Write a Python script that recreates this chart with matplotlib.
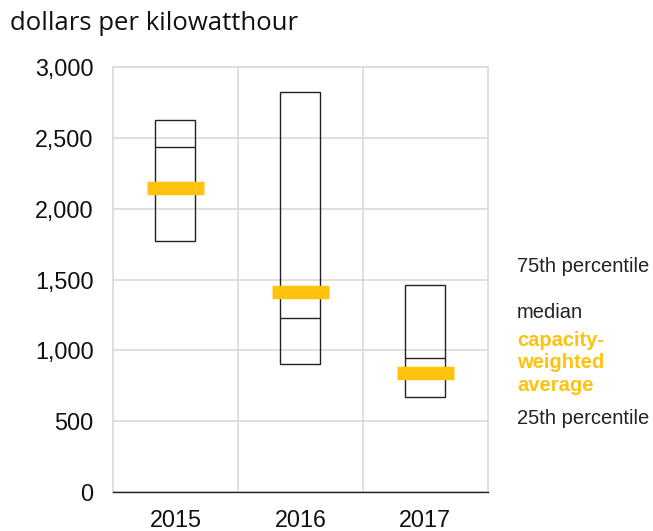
import matplotlib.pyplot as plt

# data
years = ["2015", "2016", "2017"]
p25 = [1772, 903, 670]
median = [2437, 1226, 946]
p75 = [2624, 2823, 1461]
weighted_avg = [2148, 1413, 840]

yellow = "#FFC20E"
grid_col = "#D9D9D9"

fig = plt.figure(figsize=(6.53, 5.31), dpi=100)
ax = fig.add_axes([0.173, 0.0734, 0.574, 0.8004])

x = list(range(len(years)))
box_w = 0.32
avg_w = 0.456

ax.bar(x, [a - b for a, b in zip(p75, p25)], bottom=p25, width=box_w,
       facecolor="none", edgecolor="#222222", linewidth=1.0, zorder=3)
for i in x:
    ax.hlines(median[i], i - box_w / 2, i + box_w / 2, color="#222222",
              linewidth=1.0, zorder=3)
    ax.hlines(weighted_avg[i], i - avg_w / 2, i + avg_w / 2, color=yellow,
              linewidth=9.7, zorder=4)

ax.set_xlim(-0.5, 2.5)
ax.set_ylim(0, 3000)
ax.set_yticks(range(0, 3001, 500))
ax.set_yticklabels([f"{v:,}" for v in range(0, 3001, 500)])
ax.set_xticks(x)
ax.set_xticklabels(years)

# gridlines: horizontal at ticks, vertical between categories
ax.yaxis.grid(True, color=grid_col, linewidth=1.2, zorder=0)
for xb in [0.5, 1.5]:
    ax.axvline(xb, color=grid_col, linewidth=1.2, zorder=0)
for side in ["left", "right", "top"]:
    ax.spines[side].set_color(grid_col)
    ax.spines[side].set_linewidth(1.2)
ax.spines["bottom"].set_color("#222222")
ax.spines["bottom"].set_linewidth(1.0)
ax.tick_params(length=0, labelsize=16.8, labelcolor="#111111")
ax.tick_params(axis="y", pad=14)
ax.tick_params(axis="x", pad=12)
for lab in ax.get_xticklabels() + ax.get_yticklabels():
    lab.set_family("Liberation Sans")

fig.text(0.016, 0.956, "dollars per kilowatthour", fontsize=18.5,
         family="Open Sans", va="center", ha="left", color="#111111")

# legend labels on the right
lx = 517 / 653
fs = 14.5
fig.text(lx, 1 - 266 / 531, "75th percentile", fontsize=fs,
         family="Liberation Sans", va="center", color="#222222")
fig.text(lx, 1 - 313 / 531, "median", fontsize=fs,
         family="Liberation Sans", va="center", color="#222222")
fig.text(lx, 1 - 363 / 531, "capacity-\nweighted\naverage", fontsize=fs,
         family="Liberation Sans", fontweight="bold", va="center",
         color=yellow, linespacing=1.22)
fig.text(lx, 1 - 418 / 531, "25th percentile", fontsize=fs,
         family="Liberation Sans", va="center", color="#222222")

fig.savefig("out.png", dpi=100)
